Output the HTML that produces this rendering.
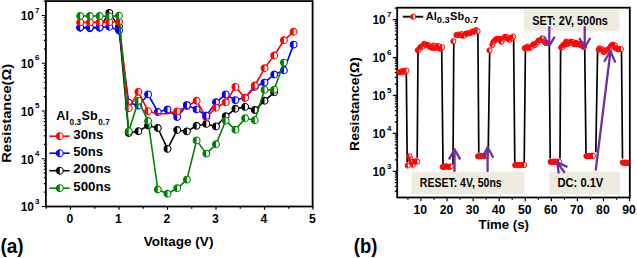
<!DOCTYPE html>
<html><head><meta charset="utf-8"><style>
html,body{margin:0;padding:0;background:#fff;width:637px;height:258px;overflow:hidden}
svg{display:block}
text{font-family:"Liberation Sans",sans-serif}
</style></head><body>
<svg width="637" height="258" viewBox="0 0 637 258">
<defs><g id="mr"><circle r="3.4" fill="#fff" stroke="#ff0000" stroke-width="1.1"/><path d="M0,-3.4A3.4,3.4 0 0 0 0,3.4Z" fill="#ff0000"/></g><g id="mb"><circle r="3.4" fill="#fff" stroke="#0000ff" stroke-width="1.1"/><path d="M0,-3.4A3.4,3.4 0 0 0 0,3.4Z" fill="#0000ff"/></g><g id="mk"><circle r="3.4" fill="#fff" stroke="#000000" stroke-width="1.1"/><path d="M0,-3.4A3.4,3.4 0 0 0 0,3.4Z" fill="#000000"/></g><g id="mg"><circle r="3.4" fill="#fff" stroke="#008000" stroke-width="1.1"/><path d="M0,-3.4A3.4,3.4 0 0 0 0,3.4Z" fill="#008000"/></g><clipPath id="cb"><rect x="396" y="6" width="233" height="192"/></clipPath><g id="s"><circle r="2.55" fill="#fff" stroke="#ff0000" stroke-width="1"/><path d="M0,-2.55A2.55,2.55 0 0 0 0,2.55Z" fill="#ff0000"/></g></defs>
<rect width="637" height="258" fill="#fff"/>
<rect x="45.9" y="1.1" width="266.7" height="205.4" fill="none" stroke="#000" stroke-width="1.8"/>
<path d="M41.8,206.50H46.2 M43.8,192.13H46.2 M43.8,183.72H46.2 M43.8,177.75H46.2 M43.8,173.12H46.2 M43.8,169.34H46.2 M43.8,166.15H46.2 M43.8,163.38H46.2 M43.8,160.93H46.2 M41.8,158.75H46.2 M43.8,144.38H46.2 M43.8,135.97H46.2 M43.8,130.00H46.2 M43.8,125.37H46.2 M43.8,121.59H46.2 M43.8,118.40H46.2 M43.8,115.63H46.2 M43.8,113.18H46.2 M41.8,111.00H46.2 M43.8,96.63H46.2 M43.8,88.22H46.2 M43.8,82.25H46.2 M43.8,77.62H46.2 M43.8,73.84H46.2 M43.8,70.65H46.2 M43.8,67.88H46.2 M43.8,65.43H46.2 M41.8,63.25H46.2 M43.8,48.88H46.2 M43.8,40.47H46.2 M43.8,34.50H46.2 M43.8,29.87H46.2 M43.8,26.09H46.2 M43.8,22.90H46.2 M43.8,20.13H46.2 M43.8,17.68H46.2 M41.8,15.50H46.2 M43.8,1.13H46.2 M70.50,206.5V209.8 M119.00,206.5V209.8 M167.50,206.5V209.8 M216.00,206.5V209.8 M264.50,206.5V209.8 M313.00,206.5V209.8 M46.25,206.5V208.7 M94.75,206.5V208.7 M143.25,206.5V208.7 M191.75,206.5V208.7 M240.25,206.5V208.7 M288.75,206.5V208.7" stroke="#000" stroke-width="1.2" fill="none"/>
<text x="33.9" y="211.40" font-family="Liberation Sans" font-weight="bold" font-size="12.8" text-anchor="end" textLength="13.2" lengthAdjust="spacingAndGlyphs">10</text>
<text x="35.0" y="203.50" font-family="Liberation Sans" font-weight="bold" font-size="8">3</text>
<text x="33.9" y="163.65" font-family="Liberation Sans" font-weight="bold" font-size="12.8" text-anchor="end" textLength="13.2" lengthAdjust="spacingAndGlyphs">10</text>
<text x="35.0" y="155.75" font-family="Liberation Sans" font-weight="bold" font-size="8">4</text>
<text x="33.9" y="115.90" font-family="Liberation Sans" font-weight="bold" font-size="12.8" text-anchor="end" textLength="13.2" lengthAdjust="spacingAndGlyphs">10</text>
<text x="35.0" y="108.00" font-family="Liberation Sans" font-weight="bold" font-size="8">5</text>
<text x="33.9" y="68.15" font-family="Liberation Sans" font-weight="bold" font-size="12.8" text-anchor="end" textLength="13.2" lengthAdjust="spacingAndGlyphs">10</text>
<text x="35.0" y="60.25" font-family="Liberation Sans" font-weight="bold" font-size="8">6</text>
<text x="33.9" y="20.40" font-family="Liberation Sans" font-weight="bold" font-size="12.8" text-anchor="end" textLength="13.2" lengthAdjust="spacingAndGlyphs">10</text>
<text x="35.0" y="12.50" font-family="Liberation Sans" font-weight="bold" font-size="8">7</text>
<text x="69.90" y="222.5" font-family="Liberation Sans" font-weight="bold" font-size="12.2" text-anchor="middle">0</text>
<text x="118.40" y="222.5" font-family="Liberation Sans" font-weight="bold" font-size="12.2" text-anchor="middle">1</text>
<text x="166.90" y="222.5" font-family="Liberation Sans" font-weight="bold" font-size="12.2" text-anchor="middle">2</text>
<text x="215.40" y="222.5" font-family="Liberation Sans" font-weight="bold" font-size="12.2" text-anchor="middle">3</text>
<text x="263.90" y="222.5" font-family="Liberation Sans" font-weight="bold" font-size="12.2" text-anchor="middle">4</text>
<text x="312.40" y="222.5" font-family="Liberation Sans" font-weight="bold" font-size="12.2" text-anchor="middle">5</text>
<text x="143.8" y="245.7" font-family="Liberation Sans" font-weight="bold" font-size="12.5" textLength="69.6" lengthAdjust="spacingAndGlyphs">Voltage (V)</text>
<text transform="translate(11.4,162.7) rotate(-90)" x="0" y="0" font-family="Liberation Sans" font-weight="bold" font-size="13" textLength="98.7" lengthAdjust="spacingAndGlyphs">Resistance(&#937;)</text>
<text x="0.5" y="252.6" font-family="Liberation Sans" font-weight="bold" font-size="19.5" textLength="23.2" lengthAdjust="spacingAndGlyphs">(a)</text>
<polyline points="80.2,27.8 89.9,28.3 99.6,27.8 109.3,12.9 119.0,26.5 128.7,133.0 138.4,131.2 148.1,125.5 157.8,128.0 167.5,148.9 177.2,130.0 186.9,131.4 196.6,125.8 206.3,123.9 216.0,126.4 225.7,116.3 235.4,108.8 245.1,106.9 254.8,110.0 264.5,100.8 274.2,92.3" fill="none" stroke="#000000" stroke-width="1.6" stroke-linejoin="round"/>
<use href="#mk" x="80.2" y="27.8"/>
<use href="#mk" x="89.9" y="28.3"/>
<use href="#mk" x="99.6" y="27.8"/>
<use href="#mk" x="109.3" y="12.9"/>
<use href="#mk" x="119.0" y="26.5"/>
<use href="#mk" x="128.7" y="133.0"/>
<use href="#mk" x="138.4" y="131.2"/>
<use href="#mk" x="148.1" y="125.5"/>
<use href="#mk" x="157.8" y="128.0"/>
<use href="#mk" x="167.5" y="148.9"/>
<use href="#mk" x="177.2" y="130.0"/>
<use href="#mk" x="186.9" y="131.4"/>
<use href="#mk" x="196.6" y="125.8"/>
<use href="#mk" x="206.3" y="123.9"/>
<use href="#mk" x="216.0" y="126.4"/>
<use href="#mk" x="225.7" y="116.3"/>
<use href="#mk" x="235.4" y="108.8"/>
<use href="#mk" x="245.1" y="106.9"/>
<use href="#mk" x="254.8" y="110.0"/>
<use href="#mk" x="264.5" y="100.8"/>
<use href="#mk" x="274.2" y="92.3"/>
<polyline points="80.2,27.3 89.9,27.3 99.6,27.3 109.3,26.8 119.0,30.5 128.7,102.6 138.4,105.7 148.1,94.4 157.8,112.0 167.5,109.5 177.2,117.0 186.9,105.1 196.6,109.4 206.3,115.7 216.0,102.3 225.7,94.4 235.4,100.1 245.1,97.6 254.8,86.9 264.5,82.6 274.2,74.5 283.9,70.3 293.6,44.6" fill="none" stroke="#0000ff" stroke-width="1.6" stroke-linejoin="round"/>
<use href="#mb" x="80.2" y="27.3"/>
<use href="#mb" x="89.9" y="27.3"/>
<use href="#mb" x="99.6" y="27.3"/>
<use href="#mb" x="109.3" y="26.8"/>
<use href="#mb" x="119.0" y="30.5"/>
<use href="#mb" x="128.7" y="102.6"/>
<use href="#mb" x="138.4" y="105.7"/>
<use href="#mb" x="148.1" y="94.4"/>
<use href="#mb" x="157.8" y="112.0"/>
<use href="#mb" x="167.5" y="109.5"/>
<use href="#mb" x="177.2" y="117.0"/>
<use href="#mb" x="186.9" y="105.1"/>
<use href="#mb" x="196.6" y="109.4"/>
<use href="#mb" x="206.3" y="115.7"/>
<use href="#mb" x="216.0" y="102.3"/>
<use href="#mb" x="225.7" y="94.4"/>
<use href="#mb" x="235.4" y="100.1"/>
<use href="#mb" x="245.1" y="97.6"/>
<use href="#mb" x="254.8" y="86.9"/>
<use href="#mb" x="264.5" y="82.6"/>
<use href="#mb" x="274.2" y="74.5"/>
<use href="#mb" x="283.9" y="70.3"/>
<use href="#mb" x="293.6" y="44.6"/>
<polyline points="80.2,22.4 89.9,22.4 99.6,22.4 109.3,22.2 119.0,21.7 128.7,108.2 138.4,91.9 148.1,111.2 157.8,113.7 167.5,113.7 177.2,111.4 186.9,106.2 196.6,100.8 206.3,117.4 216.0,107.8 225.7,102.3 235.4,86.9 245.1,98.0 254.8,85.5 264.5,68.3 274.2,55.5 283.9,40.3 293.6,31.8" fill="none" stroke="#ff0000" stroke-width="1.6" stroke-linejoin="round"/>
<use href="#mr" x="80.2" y="22.4"/>
<use href="#mr" x="89.9" y="22.4"/>
<use href="#mr" x="99.6" y="22.4"/>
<use href="#mr" x="109.3" y="22.2"/>
<use href="#mr" x="119.0" y="21.7"/>
<use href="#mr" x="128.7" y="108.2"/>
<use href="#mr" x="138.4" y="91.9"/>
<use href="#mr" x="148.1" y="111.2"/>
<use href="#mr" x="177.2" y="111.4"/>
<use href="#mr" x="186.9" y="106.2"/>
<use href="#mr" x="196.6" y="100.8"/>
<use href="#mr" x="206.3" y="117.4"/>
<use href="#mr" x="216.0" y="107.8"/>
<use href="#mr" x="225.7" y="102.3"/>
<use href="#mr" x="235.4" y="86.9"/>
<use href="#mr" x="245.1" y="98.0"/>
<use href="#mr" x="254.8" y="85.5"/>
<use href="#mr" x="264.5" y="68.3"/>
<use href="#mr" x="274.2" y="55.5"/>
<use href="#mr" x="283.9" y="40.3"/>
<use href="#mr" x="293.6" y="31.8"/>
<use href="#mb" x="186.9" y="105.1"/>
<use href="#mb" x="206.3" y="115.7"/>
<polyline points="80.2,16.0 89.9,16.0 99.6,16.0 109.3,16.4 119.0,15.8 128.7,131.4 138.4,100.7 148.1,121.0 157.8,189.5 167.5,193.8 177.2,188.3 186.9,179.6 196.6,140.4 206.3,153.6 216.0,144.3 225.7,120.6 235.4,129.8 245.1,118.3 254.8,120.2 264.5,89.9 274.2,89.6 283.9,62.6" fill="none" stroke="#008000" stroke-width="1.6" stroke-linejoin="round"/>
<use href="#mg" x="80.2" y="16.0"/>
<use href="#mg" x="89.9" y="16.0"/>
<use href="#mg" x="99.6" y="16.0"/>
<use href="#mg" x="109.3" y="16.4"/>
<use href="#mg" x="119.0" y="15.8"/>
<use href="#mg" x="128.7" y="131.4"/>
<use href="#mg" x="138.4" y="100.7"/>
<use href="#mg" x="148.1" y="121.0"/>
<use href="#mg" x="157.8" y="189.5"/>
<use href="#mg" x="167.5" y="193.8"/>
<use href="#mg" x="177.2" y="188.3"/>
<use href="#mg" x="186.9" y="179.6"/>
<use href="#mg" x="196.6" y="140.4"/>
<use href="#mg" x="206.3" y="153.6"/>
<use href="#mg" x="216.0" y="144.3"/>
<use href="#mg" x="225.7" y="120.6"/>
<use href="#mg" x="235.4" y="129.8"/>
<use href="#mg" x="245.1" y="118.3"/>
<use href="#mg" x="254.8" y="120.2"/>
<use href="#mg" x="264.5" y="89.9"/>
<use href="#mg" x="274.2" y="89.6"/>
<use href="#mg" x="283.9" y="62.6"/>
<text x="56.3" y="120.2" font-family="Liberation Sans" font-weight="bold" font-size="12.6">Al</text>
<text x="69.6" y="125.4" font-family="Liberation Sans" font-weight="bold" font-size="8.2">0.3</text>
<text x="81.6" y="120.2" font-family="Liberation Sans" font-weight="bold" font-size="12.6">Sb</text>
<text x="98.3" y="125.4" font-family="Liberation Sans" font-weight="bold" font-size="8.2">0.7</text>
<path d="M49.4,136.2H69.6" stroke="#ff0000" stroke-width="1.6"/>
<use href="#mr" x="59.8" y="136.2"/>
<text x="73.3" y="138.7" font-family="Liberation Sans" font-weight="bold" font-size="12.8" textLength="30.2" lengthAdjust="spacingAndGlyphs">30ns</text>
<path d="M49.4,153.2H69.6" stroke="#0000ff" stroke-width="1.6"/>
<use href="#mb" x="59.8" y="153.2"/>
<text x="73.3" y="155.7" font-family="Liberation Sans" font-weight="bold" font-size="12.8" textLength="29.8" lengthAdjust="spacingAndGlyphs">50ns</text>
<path d="M49.4,170.7H69.6" stroke="#000000" stroke-width="1.6"/>
<use href="#mk" x="59.8" y="170.7"/>
<text x="73.3" y="173.2" font-family="Liberation Sans" font-weight="bold" font-size="12.8" textLength="37.7" lengthAdjust="spacingAndGlyphs">200ns</text>
<path d="M49.4,188.2H69.6" stroke="#008000" stroke-width="1.6"/>
<use href="#mg" x="59.8" y="188.2"/>
<text x="73.3" y="190.7" font-family="Liberation Sans" font-weight="bold" font-size="12.8" textLength="37.7" lengthAdjust="spacingAndGlyphs">500ns</text>
<rect x="524.1" y="9.7" width="95.5" height="21.7" fill="#eeece1"/>
<rect x="411.5" y="171.7" width="112.8" height="22.6" fill="#eeece1"/>
<rect x="549.5" y="171.6" width="70.6" height="22.8" fill="#eeece1"/>
<text x="532.2" y="24.8" font-family="Liberation Sans" font-weight="bold" font-size="12.2" textLength="75.7" lengthAdjust="spacingAndGlyphs">SET: 2V, 500ns</text>
<text x="419.8" y="187.3" font-family="Liberation Sans" font-weight="bold" font-size="12.2" textLength="81.9" lengthAdjust="spacingAndGlyphs">RESET: 4V, 50ns</text>
<text x="557.5" y="187.2" font-family="Liberation Sans" font-weight="bold" font-size="12.2" textLength="45.8" lengthAdjust="spacingAndGlyphs">DC: 0.1V</text>
<rect x="397.2" y="7.7" width="232.6" height="189.8" fill="none" stroke="#000" stroke-width="1.8"/>
<path d="M394.8,191.13H397.2 M394.8,186.39H397.2 M394.8,182.72H397.2 M394.8,179.71H397.2 M394.8,177.17H397.2 M394.8,174.98H397.2 M394.8,173.04H397.2 M392.8,171.30H397.2 M394.8,159.88H397.2 M394.8,153.21H397.2 M394.8,148.47H397.2 M394.8,144.79H397.2 M394.8,141.79H397.2 M394.8,139.25H397.2 M394.8,137.05H397.2 M394.8,135.11H397.2 M392.8,133.38H397.2 M394.8,121.96H397.2 M394.8,115.28H397.2 M394.8,110.54H397.2 M394.8,106.87H397.2 M394.8,103.86H397.2 M394.8,101.32H397.2 M394.8,99.13H397.2 M394.8,97.19H397.2 M392.8,95.45H397.2 M394.8,84.03H397.2 M394.8,77.36H397.2 M394.8,72.62H397.2 M394.8,68.94H397.2 M394.8,65.94H397.2 M394.8,63.40H397.2 M394.8,61.20H397.2 M394.8,59.26H397.2 M392.8,57.53H397.2 M394.8,46.11H397.2 M394.8,39.43H397.2 M394.8,34.69H397.2 M394.8,31.02H397.2 M394.8,28.01H397.2 M394.8,25.47H397.2 M394.8,23.28H397.2 M394.8,21.34H397.2 M392.8,19.60H397.2 M394.8,8.18H397.2 M420.97,197.5V201.2 M447.05,197.5V201.2 M473.12,197.5V201.2 M499.20,197.5V201.2 M525.27,197.5V201.2 M551.35,197.5V201.2 M577.42,197.5V201.2 M603.50,197.5V201.2 M629.57,197.5V201.2 M407.94,197.5V199.8 M434.01,197.5V199.8 M460.09,197.5V199.8 M486.16,197.5V199.8 M512.24,197.5V199.8 M538.31,197.5V199.8 M564.39,197.5V199.8 M590.46,197.5V199.8 M616.54,197.5V199.8" stroke="#000" stroke-width="1.2" fill="none"/>
<text x="385.6" y="175.90" font-family="Liberation Sans" font-weight="bold" font-size="12.8" text-anchor="end" textLength="13.2" lengthAdjust="spacingAndGlyphs">10</text>
<text x="386.9" y="168.90" font-family="Liberation Sans" font-weight="bold" font-size="8">3</text>
<text x="385.6" y="137.97" font-family="Liberation Sans" font-weight="bold" font-size="12.8" text-anchor="end" textLength="13.2" lengthAdjust="spacingAndGlyphs">10</text>
<text x="386.9" y="130.97" font-family="Liberation Sans" font-weight="bold" font-size="8">4</text>
<text x="385.6" y="100.05" font-family="Liberation Sans" font-weight="bold" font-size="12.8" text-anchor="end" textLength="13.2" lengthAdjust="spacingAndGlyphs">10</text>
<text x="386.9" y="93.05" font-family="Liberation Sans" font-weight="bold" font-size="8">5</text>
<text x="385.6" y="62.13" font-family="Liberation Sans" font-weight="bold" font-size="12.8" text-anchor="end" textLength="13.2" lengthAdjust="spacingAndGlyphs">10</text>
<text x="386.9" y="55.13" font-family="Liberation Sans" font-weight="bold" font-size="8">6</text>
<text x="385.6" y="24.20" font-family="Liberation Sans" font-weight="bold" font-size="12.8" text-anchor="end" textLength="13.2" lengthAdjust="spacingAndGlyphs">10</text>
<text x="386.9" y="17.20" font-family="Liberation Sans" font-weight="bold" font-size="8">7</text>
<text x="420.37" y="213.8" font-family="Liberation Sans" font-weight="bold" font-size="12.2" text-anchor="middle">10</text>
<text x="446.45" y="213.8" font-family="Liberation Sans" font-weight="bold" font-size="12.2" text-anchor="middle">20</text>
<text x="472.52" y="213.8" font-family="Liberation Sans" font-weight="bold" font-size="12.2" text-anchor="middle">30</text>
<text x="498.60" y="213.8" font-family="Liberation Sans" font-weight="bold" font-size="12.2" text-anchor="middle">40</text>
<text x="524.67" y="213.8" font-family="Liberation Sans" font-weight="bold" font-size="12.2" text-anchor="middle">50</text>
<text x="550.75" y="213.8" font-family="Liberation Sans" font-weight="bold" font-size="12.2" text-anchor="middle">60</text>
<text x="576.82" y="213.8" font-family="Liberation Sans" font-weight="bold" font-size="12.2" text-anchor="middle">70</text>
<text x="602.90" y="213.8" font-family="Liberation Sans" font-weight="bold" font-size="12.2" text-anchor="middle">80</text>
<text x="628.97" y="213.8" font-family="Liberation Sans" font-weight="bold" font-size="12.2" text-anchor="middle">90</text>
<text x="478.6" y="228.7" font-family="Liberation Sans" font-weight="bold" font-size="12.5" textLength="50.3" lengthAdjust="spacingAndGlyphs">Time (s)</text>
<text transform="translate(359.1,150.9) rotate(-90)" x="0" y="0" font-family="Liberation Sans" font-weight="bold" font-size="13" textLength="93.8" lengthAdjust="spacingAndGlyphs">Resistance(&#937;)</text>
<text x="353.8" y="253.1" font-family="Liberation Sans" font-weight="bold" font-size="19.5" textLength="23.6" lengthAdjust="spacingAndGlyphs">(b)</text>
<path d="M406.3,71L407.2,162.4 M417.2,157.8L418,52 M441.7,48L443,164 M453,164L453.8,41.5 M477.9,33L478.8,152.7 M488.2,152.5L489.7,50.3 M513.6,38L514.8,162.3 M524.2,162.3L525.4,50 M549.3,46L550.2,158.5 M560,158.5L560.6,50 M584.7,47.5L586,152.9 M595.8,152.3L597.6,50 M621.5,50L622.5,158.6" stroke="#000" stroke-width="1.7" fill="none"/>
<g clip-path="url(#cb)">
<use href="#s" x="399.6" y="72.3"/>
<use href="#s" x="400.8" y="72.2"/>
<use href="#s" x="402.0" y="71.2"/>
<use href="#s" x="402.7" y="72.3"/>
<use href="#s" x="404.0" y="71.0"/>
<use href="#s" x="405.6" y="71.0"/>
<use href="#s" x="406.4" y="70.6"/>
<use href="#s" x="407.8" y="165.6"/>
<use href="#s" x="409.5" y="156.3"/>
<use href="#s" x="410.6" y="159.4"/>
<use href="#s" x="411.6" y="161.8"/>
<use href="#s" x="412.9" y="164.8"/>
<use href="#s" x="414.9" y="161.7"/>
<use href="#s" x="415.9" y="161.2"/>
<use href="#s" x="417.4" y="161.6"/>
<use href="#s" x="417.8" y="50.2"/>
<use href="#s" x="419.1" y="49.3"/>
<use href="#s" x="420.4" y="47.3"/>
<use href="#s" x="421.5" y="46.6"/>
<use href="#s" x="422.7" y="46.6"/>
<use href="#s" x="424.2" y="43.8"/>
<use href="#s" x="424.8" y="44.3"/>
<use href="#s" x="426.4" y="45.1"/>
<use href="#s" x="427.2" y="44.9"/>
<use href="#s" x="428.2" y="45.3"/>
<use href="#s" x="429.2" y="46.0"/>
<use href="#s" x="430.4" y="47.2"/>
<use href="#s" x="431.5" y="47.4"/>
<use href="#s" x="432.7" y="47.8"/>
<use href="#s" x="433.7" y="45.5"/>
<use href="#s" x="434.9" y="48.1"/>
<use href="#s" x="436.0" y="47.2"/>
<use href="#s" x="437.0" y="46.3"/>
<use href="#s" x="438.1" y="47.6"/>
<use href="#s" x="438.9" y="46.3"/>
<use href="#s" x="440.3" y="48.9"/>
<use href="#s" x="440.9" y="48.2"/>
<use href="#s" x="442.2" y="47.2"/>
<use href="#s" x="442.7" y="166.9"/>
<use href="#s" x="443.7" y="167.3"/>
<use href="#s" x="445.2" y="166.5"/>
<use href="#s" x="446.1" y="166.4"/>
<use href="#s" x="447.3" y="166.5"/>
<use href="#s" x="448.6" y="167.0"/>
<use href="#s" x="449.6" y="166.9"/>
<use href="#s" x="450.8" y="166.3"/>
<use href="#s" x="453.4" y="41.2"/>
<use href="#s" x="456.4" y="35.0"/>
<use href="#s" x="458.3" y="34.5"/>
<use href="#s" x="459.8" y="35.2"/>
<use href="#s" x="461.5" y="34.1"/>
<use href="#s" x="462.5" y="35.7"/>
<use href="#s" x="464.1" y="35.6"/>
<use href="#s" x="465.8" y="33.6"/>
<use href="#s" x="467.0" y="33.6"/>
<use href="#s" x="468.3" y="33.4"/>
<use href="#s" x="469.5" y="33.1"/>
<use href="#s" x="471.0" y="32.4"/>
<use href="#s" x="472.0" y="32.6"/>
<use href="#s" x="473.2" y="31.2"/>
<use href="#s" x="475.1" y="31.7"/>
<use href="#s" x="476.2" y="30.0"/>
<use href="#s" x="477.6" y="31.2"/>
<use href="#s" x="478.0" y="156.3"/>
<use href="#s" x="479.3" y="156.3"/>
<use href="#s" x="481.1" y="155.8"/>
<use href="#s" x="482.1" y="156.1"/>
<use href="#s" x="483.2" y="156.0"/>
<use href="#s" x="484.3" y="156.3"/>
<use href="#s" x="485.0" y="155.6"/>
<use href="#s" x="486.3" y="156.0"/>
<use href="#s" x="489.5" y="50.3"/>
<use href="#s" x="492.4" y="44.8"/>
<use href="#s" x="493.4" y="41.9"/>
<use href="#s" x="494.9" y="40.3"/>
<use href="#s" x="496.2" y="39.1"/>
<use href="#s" x="497.5" y="38.8"/>
<use href="#s" x="498.8" y="39.0"/>
<use href="#s" x="500.4" y="38.8"/>
<use href="#s" x="501.5" y="41.7"/>
<use href="#s" x="502.7" y="38.9"/>
<use href="#s" x="504.3" y="37.6"/>
<use href="#s" x="505.2" y="36.8"/>
<use href="#s" x="506.8" y="36.9"/>
<use href="#s" x="507.9" y="38.5"/>
<use href="#s" x="509.5" y="39.8"/>
<use href="#s" x="510.8" y="37.9"/>
<use href="#s" x="511.8" y="38.1"/>
<use href="#s" x="513.2" y="36.5"/>
<use href="#s" x="515.2" y="165.2"/>
<use href="#s" x="515.8" y="164.8"/>
<use href="#s" x="517.0" y="164.9"/>
<use href="#s" x="518.2" y="165.4"/>
<use href="#s" x="518.8" y="164.9"/>
<use href="#s" x="520.2" y="165.2"/>
<use href="#s" x="521.3" y="164.9"/>
<use href="#s" x="521.9" y="164.9"/>
<use href="#s" x="523.3" y="164.8"/>
<use href="#s" x="524.2" y="165.0"/>
<use href="#s" x="524.7" y="48.1"/>
<use href="#s" x="526.1" y="47.6"/>
<use href="#s" x="527.7" y="46.5"/>
<use href="#s" x="528.4" y="48.1"/>
<use href="#s" x="530.2" y="47.8"/>
<use href="#s" x="531.5" y="46.9"/>
<use href="#s" x="533.3" y="44.3"/>
<use href="#s" x="534.6" y="45.2"/>
<use href="#s" x="536.1" y="43.6"/>
<use href="#s" x="537.4" y="42.2"/>
<use href="#s" x="538.8" y="40.4"/>
<use href="#s" x="540.6" y="40.0"/>
<use href="#s" x="542.2" y="38.3"/>
<use href="#s" x="543.9" y="41.2"/>
<use href="#s" x="545.6" y="42.9"/>
<use href="#s" x="547.0" y="43.0"/>
<use href="#s" x="550.6" y="161.9"/>
<use href="#s" x="551.3" y="162.0"/>
<use href="#s" x="552.6" y="161.6"/>
<use href="#s" x="554.1" y="161.7"/>
<use href="#s" x="554.9" y="162.1"/>
<use href="#s" x="556.1" y="161.5"/>
<use href="#s" x="556.9" y="162.0"/>
<use href="#s" x="558.0" y="161.9"/>
<use href="#s" x="559.0" y="161.6"/>
<use href="#s" x="561.1" y="47.4"/>
<use href="#s" x="562.4" y="47.1"/>
<use href="#s" x="563.3" y="44.9"/>
<use href="#s" x="565.0" y="44.4"/>
<use href="#s" x="566.2" y="41.5"/>
<use href="#s" x="567.1" y="44.1"/>
<use href="#s" x="567.7" y="42.4"/>
<use href="#s" x="568.9" y="43.1"/>
<use href="#s" x="570.0" y="43.0"/>
<use href="#s" x="571.2" y="41.6"/>
<use href="#s" x="571.7" y="42.0"/>
<use href="#s" x="572.8" y="41.9"/>
<use href="#s" x="574.3" y="44.2"/>
<use href="#s" x="574.8" y="43.2"/>
<use href="#s" x="575.9" y="42.9"/>
<use href="#s" x="576.9" y="44.2"/>
<use href="#s" x="578.1" y="43.6"/>
<use href="#s" x="578.8" y="43.8"/>
<use href="#s" x="579.8" y="44.8"/>
<use href="#s" x="581.1" y="44.6"/>
<use href="#s" x="581.7" y="44.2"/>
<use href="#s" x="582.9" y="46.4"/>
<use href="#s" x="584.0" y="47.0"/>
<use href="#s" x="586.4" y="156.1"/>
<use href="#s" x="587.6" y="156.2"/>
<use href="#s" x="588.7" y="156.0"/>
<use href="#s" x="590.0" y="156.2"/>
<use href="#s" x="591.0" y="156.1"/>
<use href="#s" x="592.0" y="155.6"/>
<use href="#s" x="593.0" y="155.8"/>
<use href="#s" x="598.8" y="49.8"/>
<use href="#s" x="599.5" y="48.4"/>
<use href="#s" x="600.8" y="49.2"/>
<use href="#s" x="602.5" y="49.3"/>
<use href="#s" x="603.8" y="52.1"/>
<use href="#s" x="604.6" y="50.5"/>
<use href="#s" x="605.6" y="51.0"/>
<use href="#s" x="607.0" y="50.7"/>
<use href="#s" x="608.2" y="49.5"/>
<use href="#s" x="609.3" y="48.4"/>
<use href="#s" x="610.1" y="47.8"/>
<use href="#s" x="611.2" y="45.7"/>
<use href="#s" x="612.8" y="44.6"/>
<use href="#s" x="613.5" y="45.1"/>
<use href="#s" x="615.1" y="45.7"/>
<use href="#s" x="615.7" y="48.0"/>
<use href="#s" x="616.9" y="48.7"/>
<use href="#s" x="618.4" y="49.3"/>
<use href="#s" x="619.8" y="49.2"/>
<use href="#s" x="621.0" y="49.2"/>
<use href="#s" x="622.8" y="162.5"/>
<use href="#s" x="623.9" y="162.9"/>
<use href="#s" x="625.0" y="162.5"/>
<use href="#s" x="626.1" y="163.3"/>
<use href="#s" x="626.7" y="162.7"/>
<use href="#s" x="628.0" y="163.2"/>
<use href="#s" x="628.8" y="162.6"/>
<use href="#s" x="629.8" y="163.0"/>
<use href="#s" x="631.2" y="162.8"/>
<use href="#s" x="631.9" y="162.8"/>
<use href="#s" x="633.0" y="162.9"/>
</g>
<path d="M402.8,16.7H423.2" stroke="#000" stroke-width="1.9"/>
<use href="#s" x="413.2" y="16.7"/>
<text x="425.8" y="19.9" font-family="Liberation Sans" font-weight="bold" font-size="11">Al</text>
<text x="436.8" y="22.6" font-family="Liberation Sans" font-weight="bold" font-size="8.2" textLength="13" lengthAdjust="spacingAndGlyphs">0.3</text>
<text x="450.1" y="19.9" font-family="Liberation Sans" font-weight="bold" font-size="11">Sb</text>
<text x="464.6" y="22.6" font-family="Liberation Sans" font-weight="bold" font-size="8.2" textLength="13.8" lengthAdjust="spacingAndGlyphs">0.7</text>
<path d="M549.3,27.2V45.8M544.6,37.4L549.3,45.8L554.3,37.4 M584.7,27.2V47.8M579.8,38.8L584.7,47.8L589.8,38.8 M454.5,171V149.2M449.4,158.6L454.5,149.2L459.8,158.6 M487.6,171V147.2M482.8,156.8L487.6,147.2L492.8,156.8 M564.2,172L557.1,162.4M566.7,166.6L557.1,162.4L558.6,172.5 M595.8,169.5L610.5,51.2M604.6,61L610.5,51.2L615,61.6" stroke="#7030a0" stroke-width="2.3" fill="none" stroke-linecap="round" stroke-linejoin="round"/>
</svg>
</body></html>
